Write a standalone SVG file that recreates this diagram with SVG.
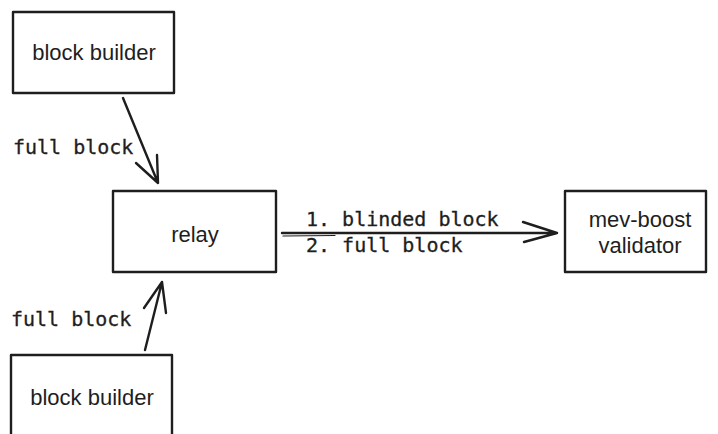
<svg xmlns="http://www.w3.org/2000/svg" width="718" height="434" viewBox="0 0 718 434">
<style>
.box{fill:#fff;stroke:#1e1e1e;stroke-width:2.4;stroke-linejoin:round}
.hand{font-family:"Liberation Sans","DejaVu Sans",sans-serif;font-size:22px;fill:#1e1e1e;text-anchor:middle}
.mono{font-family:"DejaVu Sans Mono","Liberation Mono",monospace;font-size:20px;fill:#1e1e1e;stroke:#1e1e1e;stroke-width:0.3}
.edge{fill:none;stroke:#1e1e1e;stroke-width:2.4;stroke-linecap:round;stroke-linejoin:round}
.thin{fill:none;stroke:#1e1e1e;stroke-width:1.2;stroke-linecap:round}
</style>
<rect width="718" height="434" fill="#fff"/>
<g id="builder-top">
<rect class="box" x="13" y="12" width="161" height="81"/>
<text class="hand" x="94" y="60">block builder</text>
</g>
<g id="relay">
<rect class="box" x="113" y="191" width="163" height="81"/>
<text class="hand" x="195" y="242">relay</text>
</g>
<g id="validator">
<rect class="box" x="565" y="191" width="141" height="81"/>
<text class="hand" x="640" y="227">mev-boost</text>
<text class="hand" x="640" y="253">validator</text>
</g>
<g id="builder-bottom">
<rect class="box" x="11" y="355" width="161" height="90"/>
<text class="hand" x="92" y="405">block builder</text>
</g>
<g id="connectors">
<path class="edge" d="M123 98 L158 183 M136 163 L158 183 L157 155"/>
<path class="edge" d="M145 350 L162 282 M144 308 L162 282 L166 313"/>
<path class="edge" d="M282 233 L557 233 M523 222 L557 233 L524 242"/>
<path class="thin" d="M283 236 L335 235.5"/>
<text class="mono" x="13" y="154">full block</text>
<text class="mono" x="11" y="326">full block</text>
<text class="mono" x="306" y="226">1. blinded block</text>
<text class="mono" x="306" y="252">2. full block</text>
</g>
</svg>
